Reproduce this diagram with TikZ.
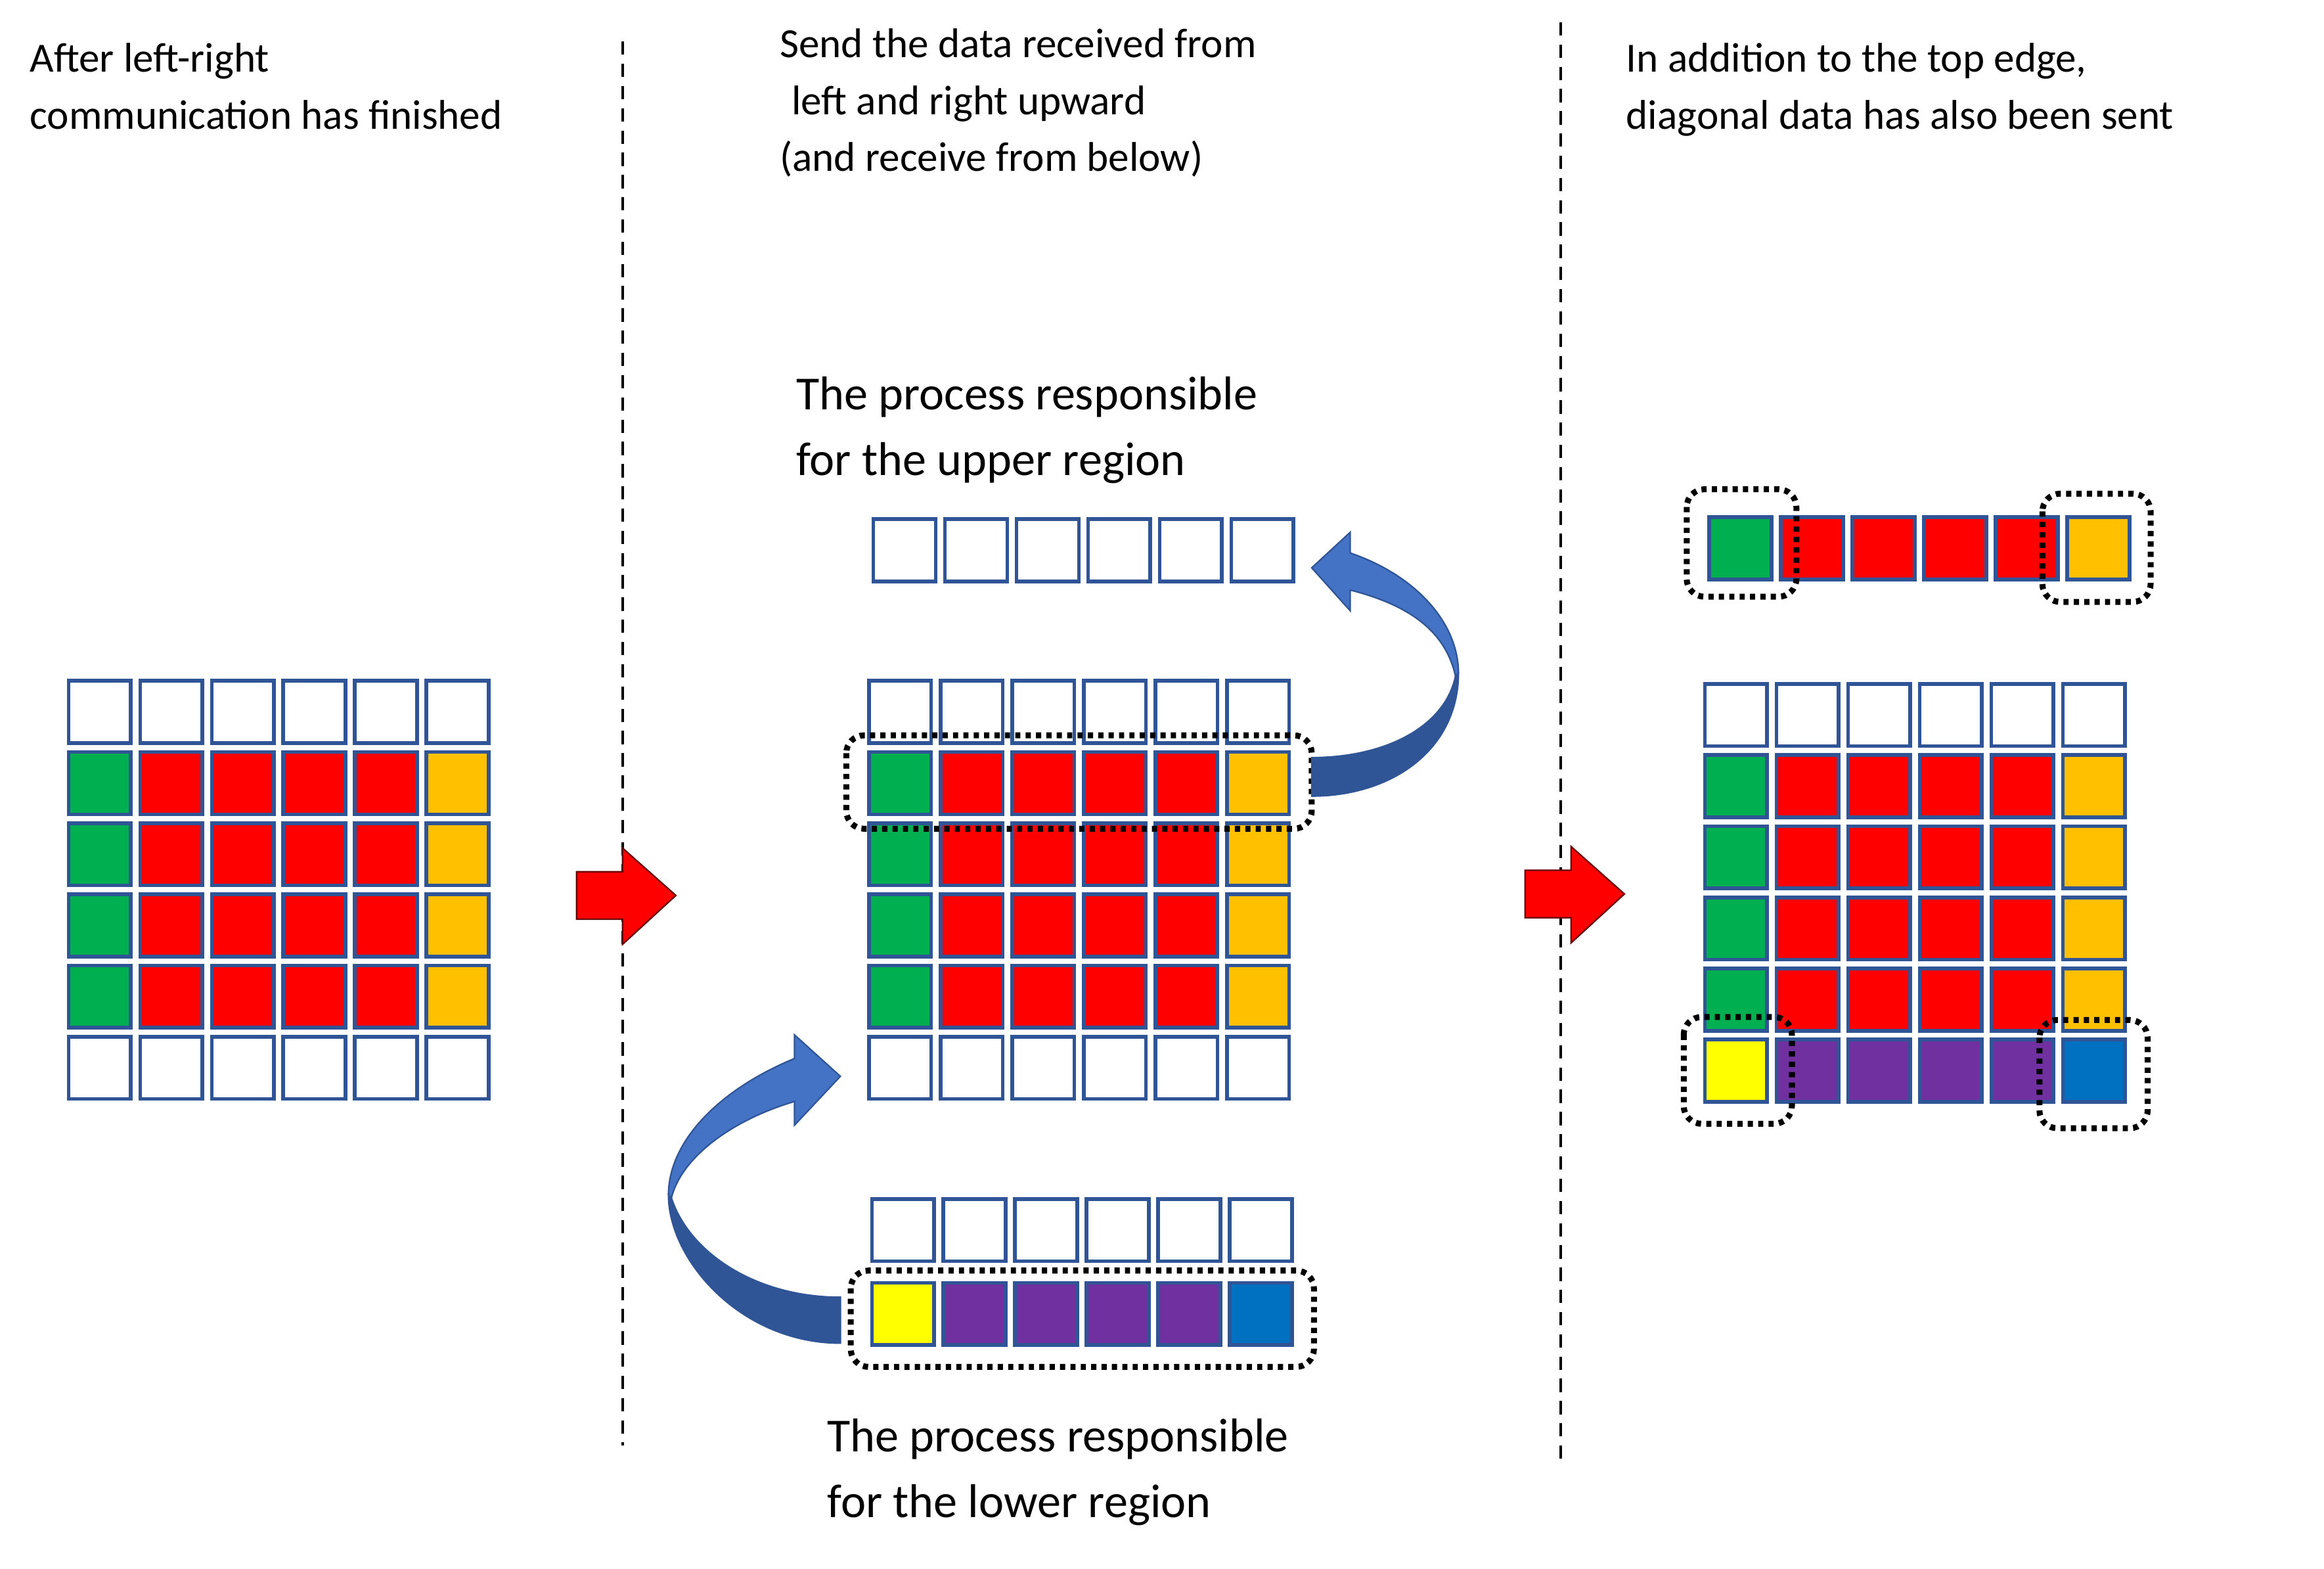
\documentclass[tikz,border=0pt]{standalone}
\usepackage{fontspec}
\setmainfont{Carlito}
\definecolor{cellblue}{HTML}{2F5597}
\definecolor{lightblue}{HTML}{4472C4}
\definecolor{cgreen}{HTML}{00B050}
\definecolor{cred}{HTML}{FF0000}
\definecolor{corange}{HTML}{FFC000}
\definecolor{cyellow}{HTML}{FFFF00}
\definecolor{cpurple}{HTML}{7030A0}
\definecolor{cblue}{HTML}{0070C0}
\begin{document}
\begin{tikzpicture}[x=1pt,y=-1pt,
  cell/.style={draw=cellblue, line width=2.5pt, minimum size=42pt, inner sep=0pt, anchor=north west},
  dotbox/.style={draw=black, line width=4pt, dash pattern=on 3.5pt off 3.5pt, rounded corners=12pt},
  sep/.style={draw=black, line width=1.8pt, dash pattern=on 9pt off 6pt},
  redarrow/.style={fill=cred, draw=black!60!red, line width=1pt},
  small/.style={font=\fontsize{28}{38.5}\selectfont, align=left, anchor=north west, inner sep=0pt},
  big/.style={font=\fontsize{32}{44}\selectfont, align=left, anchor=north west, inner sep=0pt}]
\useasboundingbox (0,0) rectangle (1568,1058);
\fill[white] (0,0) rectangle (1568,1058);
% left grid
\foreach \r/\cols in {0/{white,white,white,white,white,white},1/{cgreen,cred,cred,cred,cred,corange},2/{cgreen,cred,cred,cred,cred,corange},3/{cgreen,cred,cred,cred,cred,corange},4/{cgreen,cred,cred,cred,cred,corange},5/{white,white,white,white,white,white}}{
  \foreach \c [count=\i from 0] in \cols {
    \node[cell, fill=\c] (L-\r-\i) at ({45+48.3*\i},{458+48*\r}) {};
  }}
% middle grid
\foreach \r/\cols in {0/{white,white,white,white,white,white},1/{cgreen,cred,cred,cred,cred,corange},2/{cgreen,cred,cred,cred,cred,corange},3/{cgreen,cred,cred,cred,cred,corange},4/{cgreen,cred,cred,cred,cred,corange},5/{white,white,white,white,white,white}}{
  \foreach \c [count=\i from 0] in \cols {
    \node[cell, fill=\c] (M-\r-\i) at ({585+48.3*\i},{458+48*\r}) {};
  }}
% middle strips
\foreach \i in {0,...,5} {
  \node[cell, fill=white] (MU-\i) at ({588+48.3*\i},349) {};
  \node[cell, fill=white] (MLa-\i) at ({587+48.3*\i},807.5) {};
}
\foreach \c [count=\i from 0] in {cyellow,cpurple,cpurple,cpurple,cpurple,cblue} {
  \node[cell, fill=\c] (MLb-\i) at ({587+48.3*\i},864) {};
}
% right grid
\foreach \r/\cols in {0/{white,white,white,white,white,white},1/{cgreen,cred,cred,cred,cred,corange},2/{cgreen,cred,cred,cred,cred,corange},3/{cgreen,cred,cred,cred,cred,corange},4/{cgreen,cred,cred,cred,cred,corange},5/{cyellow,cpurple,cpurple,cpurple,cpurple,cblue}}{
  \foreach \c [count=\i from 0] in \cols {
    \node[cell, fill=\c] (R-\r-\i) at ({1149+48.3*\i},{460+48*\r}) {};
  }}
\foreach \c [count=\i from 0] in {cgreen,cred,cred,cred,cred,corange} {
  \node[cell, fill=\c] (RU-\i) at ({1152+48.3*\i},347.5) {};
}
% dotted boxes
\draw[dotbox] (571,496) rectangle (885,559);
\draw[dotbox] (574,857) rectangle (886.5,922);
\draw[dotbox] (1138,330) rectangle (1212,402.5);
\draw[dotbox] (1378,333) rectangle (1451,406);
\draw[dotbox] (1136,686) rectangle (1209,758);
\draw[dotbox] (1376,688) rectangle (1449,761);
% separators
\draw[sep] (420,28) -- (420,975);
\draw[sep] (1053,15) -- (1053,985);
% red block arrows
\draw[redarrow] (389,588) -- (420,588) -- (420,572) -- (456,604) -- (420,637) -- (420,620) -- (389,620) -- cycle;
\draw[redarrow] (1029,587) -- (1060,587) -- (1060,571) -- (1096,603) -- (1060,636) -- (1060,619) -- (1029,619) -- cycle;
% upper curved arrow
\draw[fill=cellblue, draw=cellblue, line width=1pt]
  (984,454) .. controls (984,505) and (940,537) .. (885,537) -- (885,511)
  .. controls (935,511) and (975,490) .. (982,456) -- cycle;
\draw[fill=lightblue, draw=cellblue, line width=1pt]
  (911,373) .. controls (955,388) and (984,420) .. (984,454) -- (982,456)
  .. controls (975,425) and (950,408) .. (911,398) -- (911,412) -- (885,383) -- (911,359) -- cycle;
% lower curved arrow
\draw[fill=cellblue, draw=cellblue, line width=1pt]
  (451,806) .. controls (451,850) and (500,906) .. (567,906) -- (567,875)
  .. controls (510,875) and (465,845) .. (453,808) -- cycle;
\draw[fill=lightblue, draw=cellblue, line width=1pt]
  (536,714) .. controls (485,735) and (451,770) .. (451,806) -- (453,808)
  .. controls (460,780) and (495,755) .. (536,743) -- (536,759) -- (567,726) -- (536,698) -- cycle;
% texts
\node[small] (t1) at (20,29) {After left-right\\communication has finished};
\node[small] (t2) at (526,19) {Send the data received from\\\hspace*{8pt}left and right upward\\(and receive from below)};
\node[small] (t3) at (1097,29) {In addition to the top edge,\\diagonal data has also been sent};
\node[big] (t4) at (537,254) {The process responsible\\for the upper region};
\node[big] (t5) at (558,957) {The process responsible\\for the lower region};
\end{tikzpicture}
\end{document}
